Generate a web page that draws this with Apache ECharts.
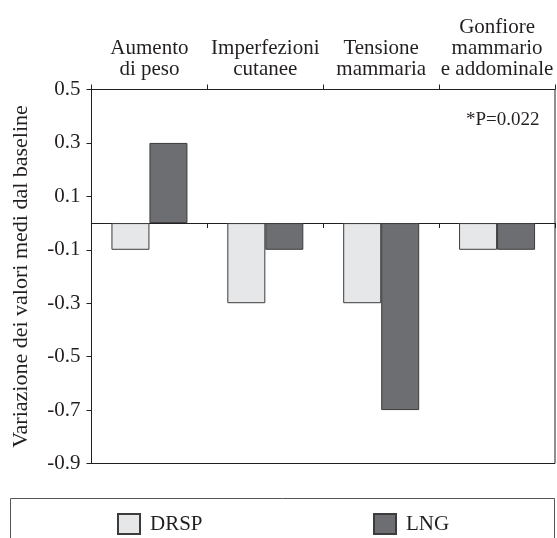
<!DOCTYPE html>
<html>
<head>
<meta charset="utf-8">
<script src="https://cdn.jsdelivr.net/npm/echarts@6/dist/echarts.min.js"></script>
<style>
  html, body { margin: 0; padding: 0; background: #fff; }
  #chart { width: 557px; height: 538px; }
</style>
</head>
<body>
<div id="chart"></div>
<script>
// categories (top axis labels)
const categories = [
  "Aumento\ndi peso",
  "Imperfezioni\ncutanee",
  "Tensione\nmammaria",
  "Gonfiore\nmammario\ne addominale",
];
const seriesNames = ["DRSP", "LNG"];
const drspValues = [-0.1, -0.3, -0.3, -0.1];
const lngValues = [0.3, -0.1, -0.7, -0.1];
const yMin = -0.9;
const yMax = 0.5;
const yStep = 0.2;
const yTitle = "Variazione dei valori medi dal baseline";
const note = "*P=0.022";

const font = "Liberation Serif";
const ink = "#231f20";

var chartDom = document.getElementById("chart");
var mychart = echarts.init(chartDom, null, { renderer: "canvas" });

var option = {
  animation: false,
  textStyle: { fontFamily: font, color: ink },
  grid: {
    left: 91.5,
    right: 2,
    top: 89.5,
    bottom: 74.5,
    show: true,
    borderColor: ink,
    borderWidth: 1,
  },
  legend: [
    {
      data: [seriesNames[0]],
      left: 117,
      top: 513,
      padding: 0,
      itemWidth: 22,
      itemHeight: 20,
      icon: "rect",
      textStyle: { fontFamily: font, fontSize: 21, color: ink, padding: [0, 0, 0, 5] },
    },
    {
      data: [seriesNames[1]],
      left: 373,
      top: 513,
      padding: 0,
      itemWidth: 22,
      itemHeight: 20,
      icon: "rect",
      textStyle: { fontFamily: font, fontSize: 21, color: ink, padding: [0, 0, 0, 5] },
    },
  ],
  xAxis: [
    {
      type: "category",
      data: categories,
      position: "top",
      axisLine: { onZero: false, lineStyle: { color: ink, width: 1 } },
      axisTick: { show: true, interval: 0, length: 5, lineStyle: { color: ink } },
      axisLabel: {
        interval: 0,
        margin: 10,
        fontFamily: font,
        fontSize: 21,
        lineHeight: 21,
        color: ink,
      },
      splitLine: { show: false },
    },
    {
      type: "category",
      data: categories,
      position: "bottom",
      axisLine: { onZero: true, lineStyle: { color: ink, width: 1 } },
      axisTick: { show: true, interval: 0, length: 5, lineStyle: { color: ink } },
      axisLabel: { show: false },
      splitLine: { show: false },
    },
  ],
  yAxis: {
    type: "value",
    min: yMin,
    max: yMax,
    interval: yStep,
    name: yTitle,
    nameLocation: "middle",
    nameRotate: 90,
    nameGap: 59,
    nameTextStyle: { fontFamily: font, fontSize: 22, color: ink },
    axisLine: { show: true, lineStyle: { color: ink, width: 1 } },
    axisTick: { show: true, length: 5, lineStyle: { color: ink } },
    axisLabel: {
      margin: 11,
      fontFamily: font,
      fontSize: 21,
      color: ink,
      formatter: (v) => v.toFixed(1),
    },
    splitLine: { show: false },
  },
  series: [
    {
      name: seriesNames[0],
      type: "bar",
      data: drspValues,
      barWidth: 38,
      barGap: "0%",
      itemStyle: { color: "#e6e7e8", borderColor: "#3c3c3c", borderWidth: 1 },
    },
    {
      name: seriesNames[1],
      type: "bar",
      data: lngValues,
      barWidth: 38,
      barGap: "0%",
      itemStyle: { color: "#6d6e71", borderColor: "#3c3c3c", borderWidth: 1 },
    },
  ],
  graphic: [
    {
      type: "rect",
      shape: { x: 10.5, y: 498.5, width: 544, height: 60 },
      style: { fill: "none", stroke: "#555", lineWidth: 1 },
      silent: true,
    },
    {
      type: "text",
      left: 466,
      top: 111,
      style: { text: note, fontFamily: font, fontSize: 19, fill: ink },
      silent: true,
    },
  ],
};

mychart.setOption(option);
</script>
</body>
</html>
